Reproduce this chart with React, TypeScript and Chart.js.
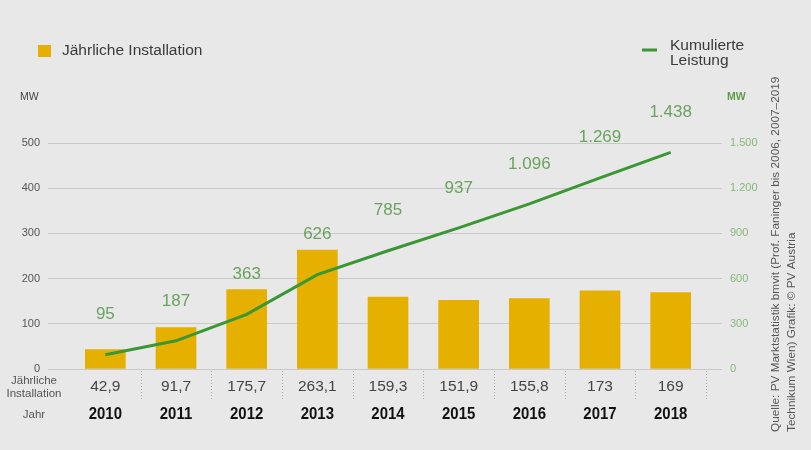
import { useEffect, useRef } from "react";
import { Chart, registerables } from "chart.js";

Chart.register(...registerables);

// ---- data ----
const years = ["2010", "2011", "2012", "2013", "2014", "2015", "2016", "2017", "2018"];
const annualInstallation = [42.9, 91.7, 175.7, 263.1, 159.3, 151.9, 155.8, 173, 169];
const cumulativeCapacity = [95, 187, 363, 626, 785, 937, 1096, 1269, 1438];
const seriesNames = ["Jährliche Installation", "Kumulierte Leistung"];
const legendLineLabel = ["Kumulierte", "Leistung"];
const rowLabelsInstall = ["Jährliche", "Installation"];
const rowLabelYear = "Jahr";
const unitLabel = "MW";
const sourceLines = [
  "Quelle: PV Marktstatistik bmvit (Prof. Faninger bis 2006, 2007–2019",
  "Technikum Wien) Grafik: © PV Austria",
];

// ---- styles ----
const BG = "#e8e8e8";
const GOLD = "#e6b000";
const GREEN = "#3b9733";
const LABEL_GREEN = "#6aa35f";
const TICK_GREEN = "#86b879";
const GRID = "#c9c9c9";
const TEXT = "#3a3a3a";
const FONT = "'Liberation Sans', Arial, sans-serif";

const fmtDE = (n: number) => {
  if (n >= 1000) {
    const th = Math.floor(n / 1000);
    const rest = String(n % 1000).padStart(3, "0");
    return th + "." + rest;
  }
  return String(n).replace(".", ",");
};

const overlay = {
  id: "overlay",
  afterDatasetsDraw(chart: any) {
    const ctx = chart.ctx;
    const xs = chart.scales.x;
    const area = chart.chartArea;
    ctx.save();

    // data labels for the cumulative line
    const lineMeta = chart.getDatasetMeta(0);
    ctx.font = `17px ${FONT}`;
    ctx.fillStyle = LABEL_GREEN;
    ctx.textAlign = "center";
    ctx.textBaseline = "middle";
    lineMeta.data.forEach((pt: any, i: number) => {
      ctx.fillText(fmtDE(cumulativeCapacity[i]), pt.x, pt.y - 40);
    });

    // legend: bars
    ctx.fillStyle = GOLD;
    ctx.fillRect(38, 45, 13, 12);
    ctx.fillStyle = TEXT;
    ctx.textAlign = "left";
    ctx.font = `15.5px ${FONT}`;
    ctx.fillText(seriesNames[0], 62, 51);

    // legend: line
    ctx.strokeStyle = GREEN;
    ctx.lineWidth = 3;
    ctx.beginPath();
    ctx.moveTo(642, 50);
    ctx.lineTo(657, 50);
    ctx.stroke();
    ctx.font = `15.5px ${FONT}`;
    ctx.fillStyle = TEXT;
    ctx.fillText(legendLineLabel[0], 670, 46);
    ctx.fillText(legendLineLabel[1], 670, 61);

    // units
    ctx.font = `10.5px ${FONT}`;
    ctx.fillStyle = "#444";
    ctx.fillText(unitLabel, 20, 97);
    ctx.font = `bold 10.5px ${FONT}`;
    ctx.fillStyle = "#5c9d4c";
    ctx.fillText(unitLabel, 727, 97);

    // table under the chart
    const n = years.length;
    const step = xs.getPixelForValue(1) - xs.getPixelForValue(0);
    ctx.strokeStyle = "#a8a8a8";
    ctx.lineWidth = 1;
    ctx.setLineDash([1, 2]);
    for (let i = 0; i < n; i++) {
      const bx = Math.round(xs.getPixelForValue(i) + step / 2) + 0.5;
      ctx.beginPath();
      ctx.moveTo(bx, area.bottom + 2);
      ctx.lineTo(bx, area.bottom + 32);
      ctx.stroke();
    }
    ctx.setLineDash([]);

    ctx.textAlign = "center";
    ctx.fillStyle = "#444";
    ctx.font = `15.5px ${FONT}`;
    for (let i = 0; i < n; i++) {
      ctx.fillText(fmtDE(annualInstallation[i]), xs.getPixelForValue(i), 387);
    }
    // slightly condensed bold years
    ctx.fillStyle = "#111";
    ctx.font = `bold 17px ${FONT}`;
    for (let i = 0; i < n; i++) {
      ctx.save();
      ctx.translate(xs.getPixelForValue(i), 414);
      ctx.scale(0.88, 1);
      ctx.fillText(years[i], 0, 0);
      ctx.restore();
    }
    ctx.fillStyle = "#555";
    ctx.font = `11.5px ${FONT}`;
    ctx.fillText(rowLabelsInstall[0], 34, 381);
    ctx.fillText(rowLabelsInstall[1], 34, 394);
    ctx.fillText(rowLabelYear, 34, 415);

    // rotated source text
    ctx.fillStyle = "#555";
    ctx.font = `11.8px ${FONT}`;
    ctx.textAlign = "left";
    sourceLines.forEach((line, i) => {
      ctx.save();
      ctx.translate(776 + i * 16, 432);
      ctx.rotate(-Math.PI / 2);
      ctx.fillText(line, 0, 0);
      ctx.restore();
    });

    ctx.restore();
  },
};

export default function App() {
  const ref = useRef<HTMLCanvasElement | null>(null);

  useEffect(() => {
    if (!ref.current) return;
    const chart = new Chart(ref.current, {
      data: {
        labels: years,
        datasets: [
          {
            type: "line",
            label: seriesNames[1],
            data: cumulativeCapacity,
            yAxisID: "y2",
            borderColor: GREEN,
            borderWidth: 3,
            pointRadius: 0,
            tension: 0,
            order: 0,
          } as any,
          {
            type: "bar",
            label: seriesNames[0],
            data: annualInstallation,
            yAxisID: "y",
            backgroundColor: GOLD,
            barThickness: 40,
            order: 1,
          } as any,
        ],
      },
      options: {
        animation: false,
        responsive: false,
        maintainAspectRatio: false,
        layout: { padding: { top: 143, bottom: 81, left: 0, right: 0 } },
        plugins: { legend: { display: false }, tooltip: { enabled: false } },
        scales: {
          x: { type: "category", display: false, offset: true },
          y: {
            position: "left",
            min: 0,
            max: 500,
            afterFit: (s: any) => {
              s.width = 70;
            },
            ticks: { stepSize: 100, padding: 8, color: "#555", font: { family: FONT, size: 11 } },
            grid: { color: GRID, tickLength: 22, lineWidth: 1, tickColor: GRID },
            border: { display: false },
          },
          y2: {
            position: "right",
            min: 0,
            max: 1500,
            afterFit: (s: any) => {
              s.width = 105;
            },
            ticks: {
              stepSize: 300,
              padding: 8,
              color: TICK_GREEN,
              font: { family: FONT, size: 11 },
              callback: (v: any) => fmtDE(Number(v)),
            },
            grid: { drawOnChartArea: false, color: GRID, tickLength: 16, tickColor: GRID },
            border: { display: false },
          },
        },
      } as any,
      plugins: [overlay],
    });
    return () => chart.destroy();
  }, []);

  return (
    <div style={{ position: "absolute", left: 0, top: 0, width: 811, height: 450, background: BG }}>
      <canvas ref={ref} width={811} height={450} style={{ display: "block" }} />
    </div>
  );
}
